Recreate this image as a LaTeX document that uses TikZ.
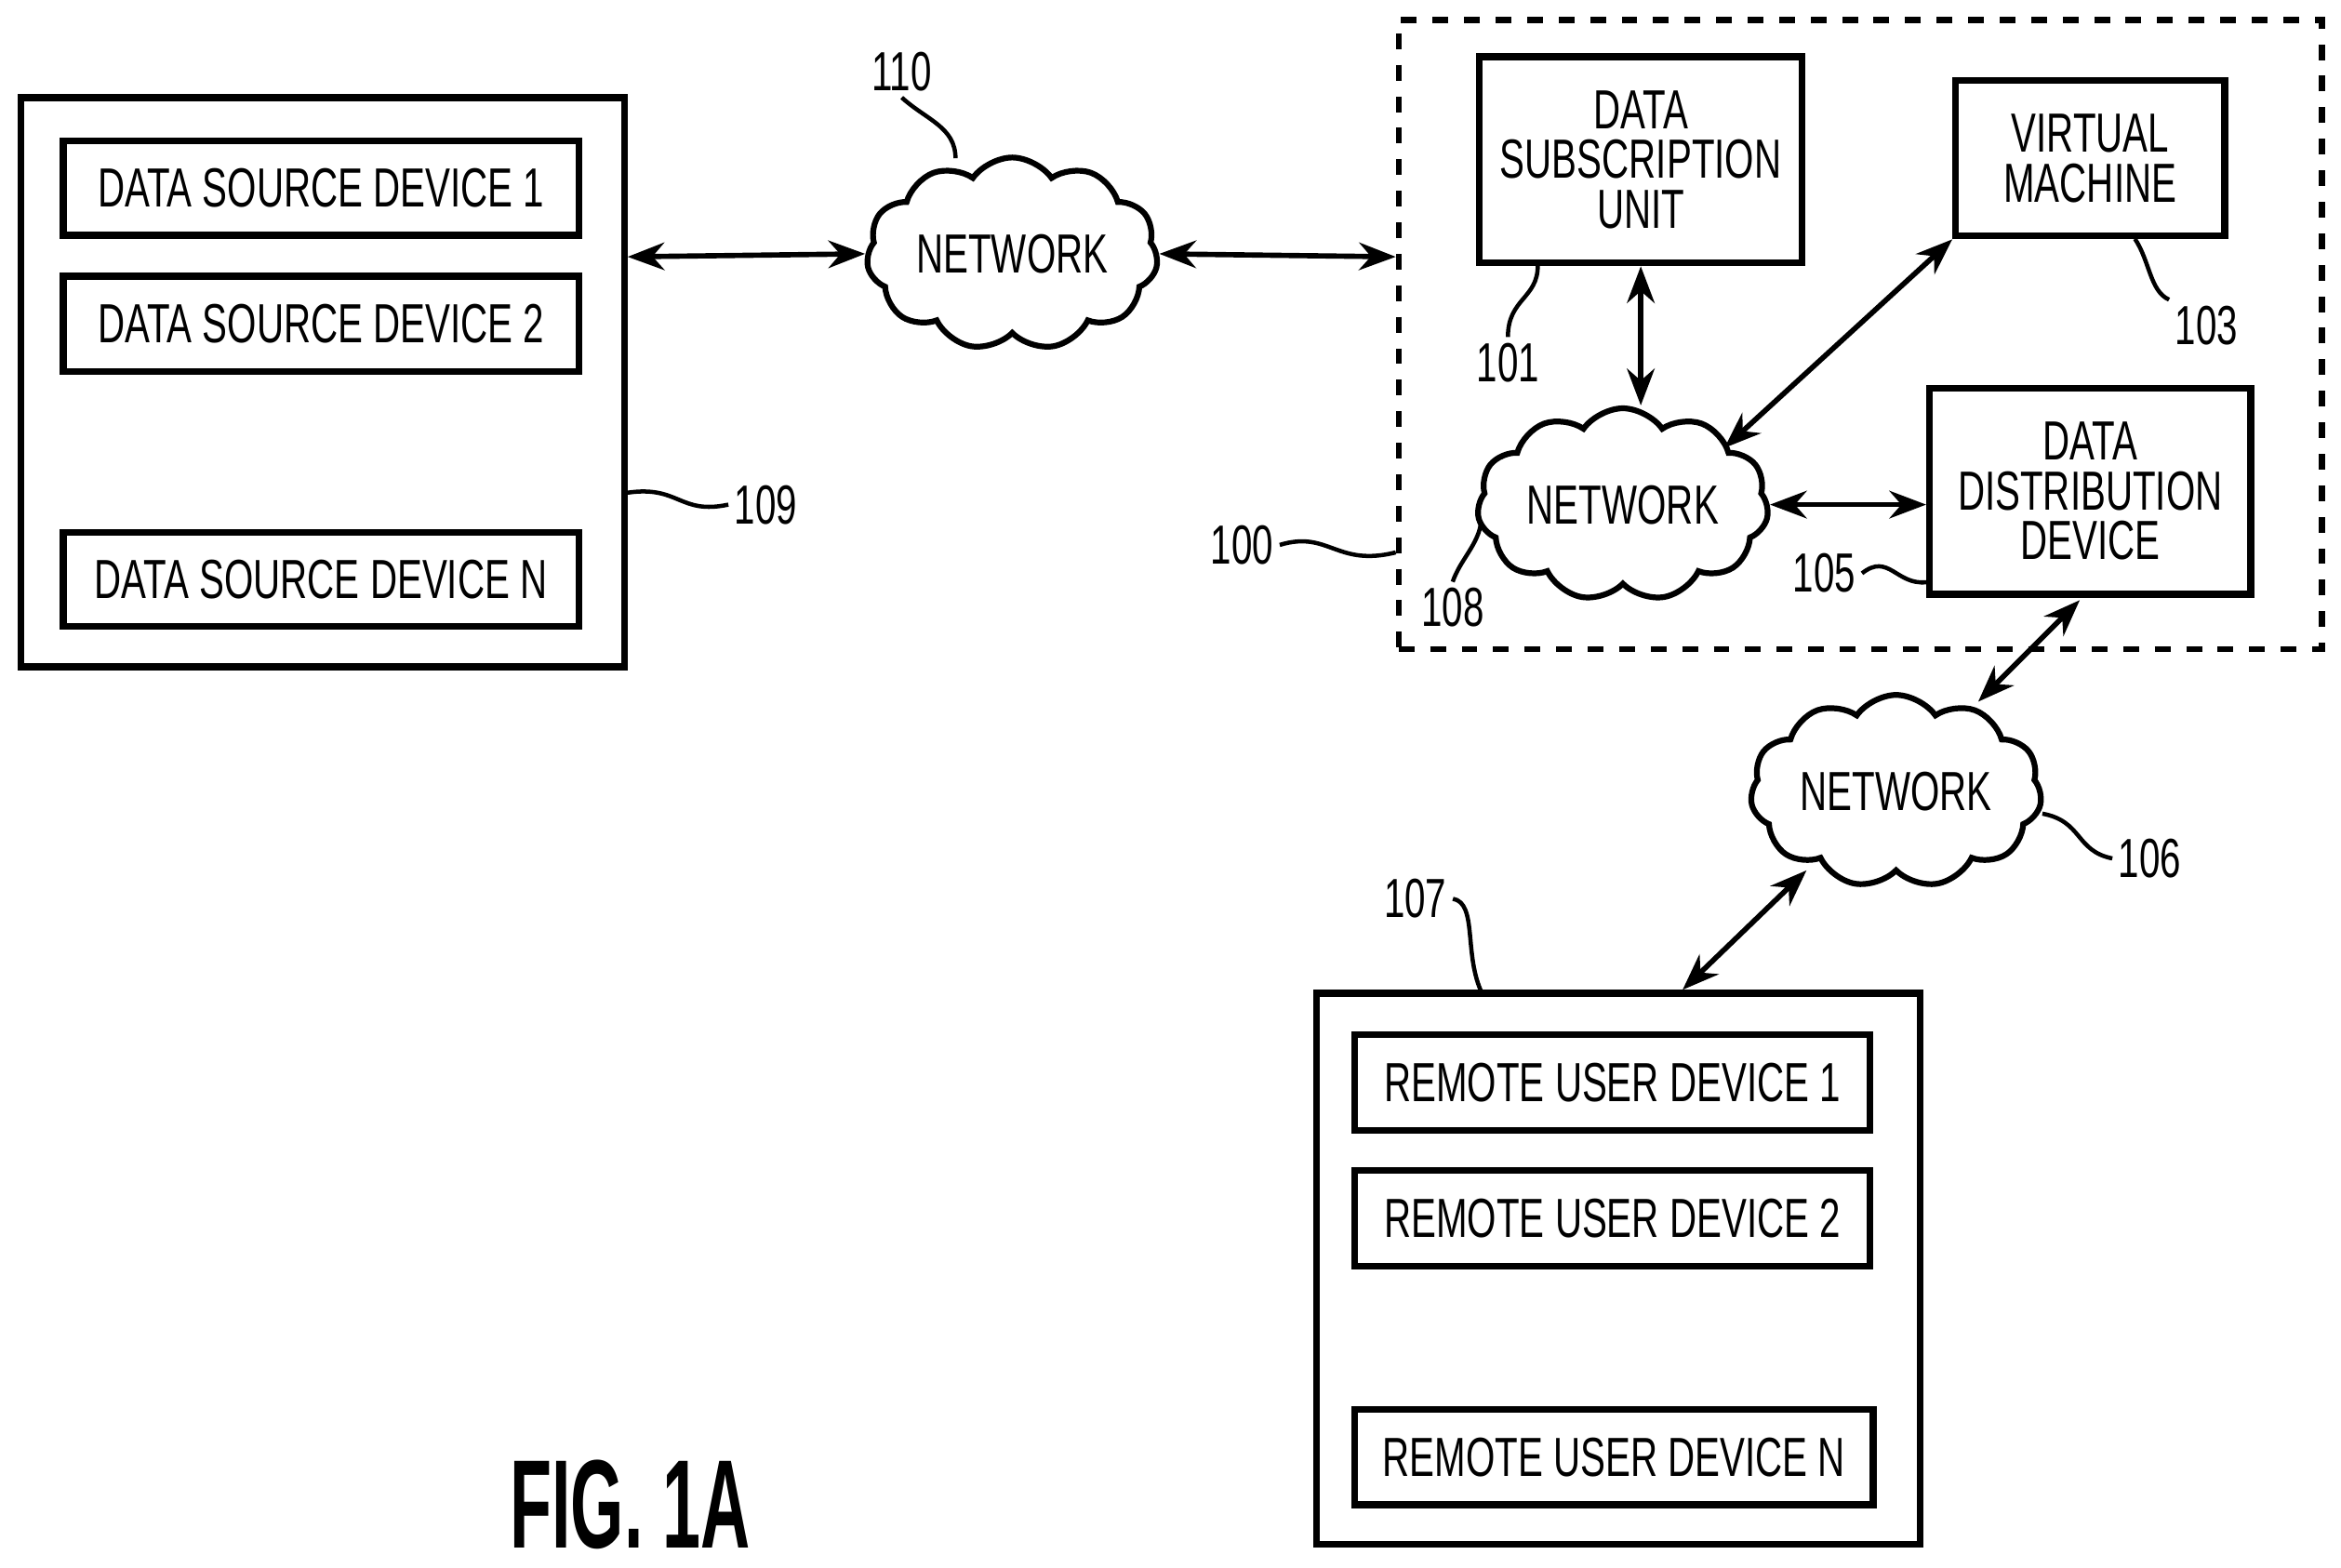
\documentclass[tikz,border=0pt]{standalone}
\usepackage{fontspec}
\setmainfont{Liberation Sans}[FakeStretch=0.68]
\usetikzlibrary{shapes.symbols,arrows.meta}
\tikzset{
  dev/.style={draw,line width=1.3pt,align=center,inner sep=0pt},
  net/.style={draw,cloud,cloud puffs=11,cloud puff arc=110,aspect=1.7,line width=1.1pt,inner sep=0pt,minimum width=1.95cm,minimum height=1.2cm},
  link/.style={line width=1pt,{Stealth[length=7pt]}-{Stealth[length=7pt]}},
  lead/.style={line width=0.8pt},
  num/.style={inner sep=1pt}
}
\begin{document}
\begin{tikzpicture}[x=0.01cm,y=-0.01cm,font=\fontsize{10.5}{9.5}\selectfont]
	\useasboundingbox (0,0) rectangle (1568,1050);
	
	% data sources
	\node[dev,minimum width=4.04cm,minimum height=3.81cm] (src) at (216,256) {};
	\node[dev,minimum width=3.45cm,minimum height=0.63cm] (s1) at (215,126) {DATA SOURCE DEVICE 1};
	\node[dev,minimum width=3.45cm,minimum height=0.64cm] (s2) at (215,217) {DATA SOURCE DEVICE 2};
	\node[dev,minimum width=3.45cm,minimum height=0.63cm] (sn) at (215,388) {DATA SOURCE DEVICE N};
	\node[num] (l109) at (513,338) {109};
	\draw[lead] (src.east |- 0,330) .. controls (455,325) and (455,345) .. (l109.west);
	
	% outer network
	\node[net] (n110) at (678,170) {NETWORK};
	\node[num] (l110) at (604,48) {110};
	\draw[lead] (l110.south) .. controls (620,80) and (640,85) .. (640,106);
	
	% system
	\node[draw,dashed,line width=1.1pt,minimum width=6.18cm,minimum height=4.21cm] (sys) at (1246,224) {};
	\node[num] (l100) at (832,365) {100};
	\draw[lead] (l100.east) .. controls (890,355) and (895,380) .. (sys.west |- 0,370);
	\node[dev,minimum width=2.16cm,minimum height=1.38cm] (dsu) at (1099,107) {DATA\\SUBSCRIPTION\\UNIT};
	\node[dev,minimum width=1.8cm,minimum height=1.04cm] (vm) at (1400,106) {VIRTUAL\\MACHINE};
	\node[dev,minimum width=2.15cm,minimum height=1.38cm] (ddd) at (1400,329) {DATA\\DISTRIBUTION\\DEVICE};
	\node[net] (n108) at (1087,338) {NETWORK};
	\node[num] (l101) at (1010,243) {101};
	\node[num] (l103) at (1478,218) {103};
	\node[num] (l105) at (1222,384) {105};
	\node[num] (l108) at (973,407) {108};
	\draw[lead] (l101.north) .. controls (1010,200) and (1030,200) .. (1030,178);
	\draw[lead] (l103.north west) .. controls (1440,195) and (1440,175) .. (1430,160);
	\draw[lead] (l105.east) .. controls (1265,370) and (1270,392) .. (ddd.west |- 0,390);
	\draw[lead] (l108.north) .. controls (978,375) and (990,365) .. (992,350);
	
	% remote network
	\node[net] (n106) at (1270,530) {NETWORK};
	\node[num] (l106) at (1440,575) {106};
	\draw[lead] (1368,545) .. controls (1395,550) and (1390,570) .. (l106.west);
	
	% remote users
	\node[dev,minimum width=4.04cm,minimum height=3.69cm] (usr) at (1084,850) {};
	\node[dev,minimum width=3.45cm,minimum height=0.64cm] (u1) at (1080,725) {REMOTE USER DEVICE 1};
	\node[dev,minimum width=3.45cm,minimum height=0.64cm] (u2) at (1080,816) {REMOTE USER DEVICE 2};
	\node[dev,minimum width=3.47cm,minimum height=0.64cm] (un) at (1081,976) {REMOTE USER DEVICE N};
	\node[num] (l107) at (948,602) {107};
	\draw[lead] (l107.east) .. controls (990,605) and (980,640) .. (993,666);
	
	% links
	\draw[link] (src.east |- 0,172) -- (n110.west);
	\draw[link] (n110.east) -- (sys.west |- 0,172);
	\draw[link] (dsu.south) -- (dsu.south |- n108.north);
	\draw[link] (vm.south west) -- (1155,300);
	\draw[link] (n108.east) -- (ddd.west |- n108.east);
	\draw[link] (1393,402) -- (1325,470);
	\draw[link] (1210,583) -- (1127,663);
	
	\node[xscale=0.8] (fig) at (422,1008) {\fontsize{24}{26}\selectfont\bfseries FIG. 1A};
\end{tikzpicture}
\end{document}
